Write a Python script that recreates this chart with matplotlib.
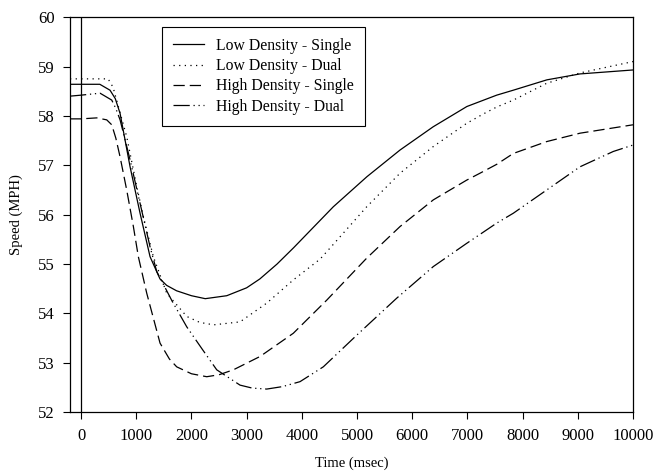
import matplotlib
matplotlib.use("Agg")
import matplotlib.pyplot as plt

plt.rcParams['font.family'] = ['Liberation Serif', 'DejaVu Serif']

# Low Density - Single
t_ld_single = [-200, 0, 340, 525, 620, 707, 888, 1069, 1250, 1430, 1550, 1730, 2000, 2250, 2640,
               3000, 3240, 3550, 3850, 4570, 5180, 5780, 6380, 6990, 7530, 7830, 8440, 9040, 10000]
v_ld_single = [58.64, 58.64, 58.64, 58.52, 58.35, 58.05, 56.97, 56.03, 55.15, 54.70, 54.57, 54.46, 54.36, 54.30, 54.36,
               54.52, 54.70, 55.00, 55.33, 56.16, 56.77, 57.31, 57.78, 58.19, 58.42, 58.52, 58.73, 58.85, 58.93]

# Low Density - Dual
t_ld_dual = [-200, 0, 490, 580, 676, 827, 1009, 1129, 1310, 1552, 1915, 2150, 2400, 2880, 3364, 3846,
             4330, 4571, 5175, 5779, 6382, 6987, 7289, 7531, 7832, 8436, 9040, 10000]
v_ld_dual = [58.75, 58.75, 58.75, 58.58, 58.19, 57.58, 56.57, 55.96, 55.15, 54.41, 53.94, 53.82, 53.77, 53.83, 54.21, 54.68,
             55.10, 55.40, 56.16, 56.84, 57.38, 57.85, 58.04, 58.18, 58.32, 58.66, 58.87, 59.10]

# High Density - Single
t_hd_single = [-200, 0, 284, 465, 556, 630, 707, 827, 948, 1038, 1190, 1431, 1600, 1733, 2000, 2277, 2500, 2760,
               3243, 3846, 4451, 5175, 5779, 6382, 6987, 7228, 7531, 7832, 8436, 9040, 10000]
v_hd_single = [57.94, 57.94, 57.96, 57.92, 57.82, 57.55, 57.17, 56.50, 55.76, 55.15, 54.41, 53.40, 53.08, 52.92, 52.78, 52.72, 52.76, 52.86,
               53.13, 53.60, 54.27, 55.12, 55.76, 56.30, 56.70, 56.84, 57.02, 57.24, 57.48, 57.65, 57.82]

# High Density - Dual
t_hd_dual = [-200, 0, 344, 556, 630, 707, 888, 1069, 1250, 1371, 1650, 1915, 2200, 2458, 2880, 3100, 3364, 3650, 3967,
             4389, 4994, 5719, 6382, 6987, 7531, 7832, 8436, 9040, 9643, 10000]
v_hd_dual = [58.40, 58.42, 58.46, 58.32, 58.15, 57.92, 57.11, 56.23, 55.35, 54.85, 54.25, 53.73, 53.27, 52.86, 52.55, 52.49, 52.47, 52.52, 52.62,
             52.92, 53.56, 54.31, 54.95, 55.42, 55.83, 56.03, 56.50, 56.97, 57.28, 57.41]

x_ticks = [0, 1000, 2000, 3000, 4000, 5000, 6000, 7000, 8000, 9000, 10000]
y_ticks = [52, 53, 54, 55, 56, 57, 58, 59, 60]

fig = plt.figure(figsize=(6.55, 4.74), dpi=100)
ax = fig.add_axes([0.1069, 0.1302, 0.8595, 0.8337])

lw = 0.9
ax.plot(t_ld_single, v_ld_single, color='black', lw=lw, linestyle='-', label='Low Density - Single')
ax.plot(t_ld_dual, v_ld_dual, color='black', lw=lw, linestyle=(0, (1, 3.5)), label='Low Density - Dual')
ax.plot(t_hd_single, v_hd_single, color='black', lw=lw, linestyle=(0, (9, 4)), label='High Density - Single')
ax.plot(t_hd_dual, v_hd_dual, color='black', lw=lw, linestyle=(0, (13, 3, 1, 3, 1, 3)), label='High Density - Dual')

# vertical line at time zero
ax.axvline(0, color='black', lw=0.9)

ax.set_xlim(-200, 10000)
ax.set_ylim(52, 60)
ax.set_xticks(x_ticks)
ax.set_yticks(y_ticks)
ax.tick_params(direction='out', length=5, width=0.8, labelsize=12, pad=6)
for s in ax.spines.values():
    s.set_linewidth(0.9)

ax.set_xlabel('Time (msec)', fontsize=10.5, labelpad=9)
ax.set_ylabel('Speed (MPH)', fontsize=10.5, labelpad=11)

leg = ax.legend(loc='upper left', bbox_to_anchor=(0.163, 0.976), fontsize=11.3,
                frameon=True, fancybox=False, framealpha=1, edgecolor='black',
                borderpad=0.72, labelspacing=0.27, handlelength=1.95, handletextpad=0.8,
                borderaxespad=0)
leg.get_frame().set_linewidth(0.8)

fig.savefig('out.png', dpi=100)
